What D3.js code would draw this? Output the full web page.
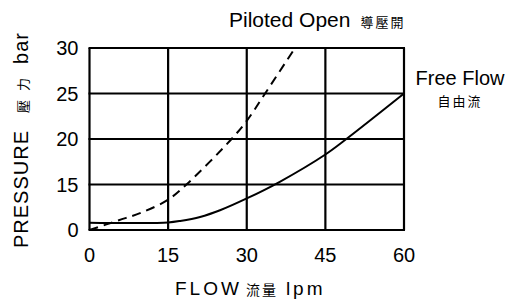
<!DOCTYPE html>
<html>
<head>
<meta charset="utf-8">
<script src="https://cdnjs.cloudflare.com/ajax/libs/d3/7.8.5/d3.min.js"></script>
<style>
    body { margin: 0; background: #fff; }
    text { font-family: "Liberation Sans", Arial, sans-serif; fill: #000; }
    .cjk { font-family: "Noto Sans CJK TC", "Noto Sans CJK SC", sans-serif; }
</style>
</head>
<body>
<div id="chart"></div>
<script>
// x axis ticks (flow, lpm) and y axis ticks (pressure, bar)
var xTicks = [0, 15, 30, 45, 60];
var yTicks = [0, 15, 20, 25, 30];

// free flow curve (solid)
var freeFlow = [0, 8, 15, 17.3, 21.1, 24.9, 30, 36.3, 45, 49, 60];
var freePressure = [2.4, 2.3, 2.5, 3.0, 4.3, 6.5, 10.4, 15.3, 18.3, 20, 25];

// piloted open curve (dashed)
var pilotFlow = [0, 5.6, 10, 15, 18.5, 27.1, 30, 33.5, 39.2];
var pilotPressure = [0, 3.2, 5.8, 10, 15, 20, 22, 25, 30];

function renderChart(position) {

    var margin = {top: 48, right: 106, bottom: 70, left: 89.5},
        width = 510 - margin.left - margin.right,
        height = 300 - margin.top - margin.bottom;

    var svg = d3.select("#" + position)
        .append("svg")
        .attr("width", 510)
        .attr("height", 300)
        .append("g")
        .attr("transform", "translate(" + margin.left + "," + margin.top + ")");

    var x = d3.scaleLinear()
        .domain([0, 60])
        .range([0, width]);

    // the first band (0 to 15) has the same height as the others
    var y = d3.scaleLinear()
        .domain([0, 15, 30])
        .range([height, height * 3 / 4, 0]);

    // grid lines
    svg.append("g")
        .selectAll("line")
        .data(xTicks)
        .enter().append("line")
        .attr("x1", function (d) { return x(d); })
        .attr("x2", function (d) { return x(d); })
        .attr("y1", 0)
        .attr("y2", height)
        .attr("stroke", "#000")
        .attr("stroke-width", 2.2);

    svg.append("g")
        .selectAll("line")
        .data(yTicks)
        .enter().append("line")
        .attr("x1", -1)
        .attr("x2", width + 1)
        .attr("y1", function (d) { return y(d); })
        .attr("y2", function (d) { return y(d); })
        .attr("stroke", "#000")
        .attr("stroke-width", 2.2);

    // tick labels
    svg.append("g")
        .selectAll("text")
        .data(xTicks)
        .enter().append("text")
        .attr("x", function (d) { return x(d); })
        .attr("y", height + 32)
        .attr("text-anchor", "middle")
        .style("font-size", "20px")
        .text(function (d) { return d; });

    svg.append("g")
        .selectAll("text")
        .data(yTicks)
        .enter().append("text")
        .attr("x", -11)
        .attr("y", function (d) { return y(d); })
        .attr("dy", ".35em")
        .attr("text-anchor", "end")
        .style("font-size", "20px")
        .text(function (d) { return d; });

    // curves
    var line = d3.line()
        .x(function (d) { return x(d[0]); })
        .y(function (d) { return y(d[1]); })
        .curve(d3.curveCatmullRom.alpha(0.5));

    svg.append("path")
        .datum(d3.zip(freeFlow, freePressure))
        .attr("d", line)
        .attr("fill", "none")
        .attr("stroke", "#000")
        .attr("stroke-width", 2);

    svg.append("path")
        .datum(d3.zip(pilotFlow, pilotPressure))
        .attr("d", line)
        .attr("fill", "none")
        .attr("stroke", "#000")
        .attr("stroke-width", 2)
        .attr("stroke-dasharray", "9,6");

    // curve labels
    var top = d3.select("#" + position).select("svg");

    var pilot = top.append("text")
        .attr("x", 229)
        .attr("y", 27)
        .style("font-size", "21px");
    pilot.append("tspan").text("Piloted Open");
    pilot.append("tspan").attr("class", "cjk").attr("dx", 10)
        .style("font-size", "13px").style("letter-spacing", "2px").text("導壓開");

    top.append("text")
        .attr("x", 460)
        .attr("y", 85)
        .attr("text-anchor", "middle")
        .style("font-size", "20px")
        .text("Free Flow");

    top.append("text")
        .attr("class", "cjk")
        .attr("x", 460)
        .attr("y", 106)
        .attr("text-anchor", "middle")
        .style("font-size", "13px")
        .style("letter-spacing", "2px")
        .text("自由流");

    //axis titles
    var xt = top.append("text")
        .attr("x", 175)
        .attr("y", 295)
        .style("font-size", "19px")
        .style("letter-spacing", "3px");
    xt.append("tspan").text("FLOW");
    xt.append("tspan").attr("class", "cjk").attr("dx", 4).style("font-size", "14px")
        .style("letter-spacing", "2px").text("流量");
    xt.append("tspan").attr("dx", 8).text("lpm");

    var yt = top.append("text")
        .attr("transform", "translate(28,248) rotate(-90)")
        .style("font-size", "20px")
        .style("letter-spacing", "1px");
    yt.append("tspan").text("PRESSURE");
    yt.append("tspan").attr("class", "cjk").attr("dx", 17).style("font-size", "13px")
        .style("letter-spacing", "9px").text("壓力");
    yt.append("tspan").attr("dx", 5).text("bar");
}

renderChart("chart");
</script>
</body>
</html>
